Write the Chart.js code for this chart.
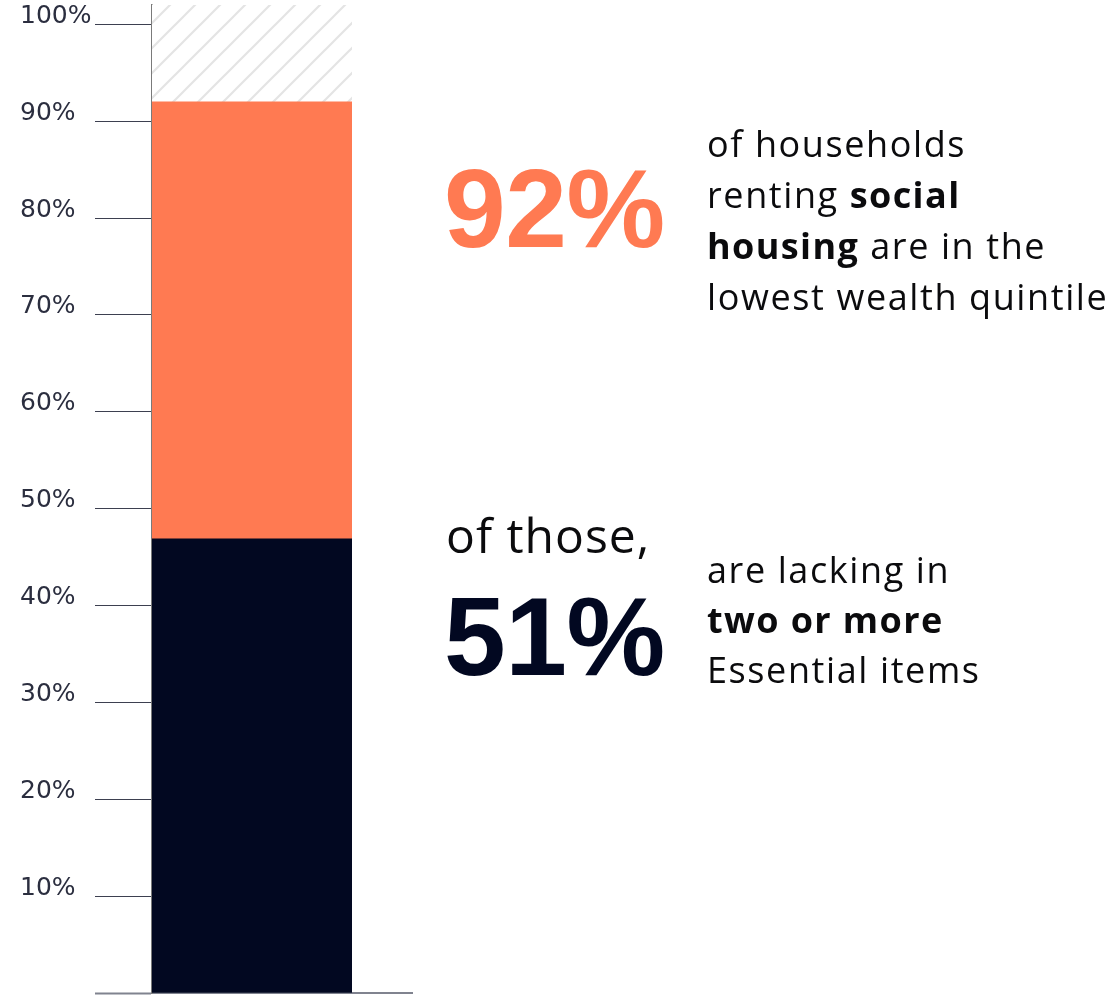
<!DOCTYPE html>
<html>
<head>
<meta charset="utf-8">
<title>Social housing renters and wealth</title>
<script src="https://cdn.jsdelivr.net/npm/chart.js@4.4.1/dist/chart.umd.min.js"></script>
<style>
  html, body { margin: 0; padding: 0; background: #ffffff; }
  #wrap { position: relative; width: 1115px; height: 997px; overflow: hidden; }
  #chart { position: absolute; left: 0; top: 0; }
  .note { position: absolute; white-space: nowrap; }
  .big { font-family: "Liberation Sans", Arial, sans-serif; font-weight: 700; font-size: 111px; line-height: 111px; letter-spacing: -0.5px; }
  .body { font-family: "Open Sans", "Noto Sans", sans-serif; font-size: 36px; line-height: 51px; letter-spacing: 1.6px; color: #0b0b0d; }
  .body b { font-weight: 700; letter-spacing: 1.4px; }
  .lead { font-family: "Open Sans", "Noto Sans", sans-serif; font-size: 48px; line-height: 56px; letter-spacing: 1px; color: #0b0b0d; }
</style>
</head>
<body>
<div id="wrap">
  <canvas id="chart" width="1115" height="997"></canvas>
  <div class="note big" style="left:444px; top:154px; color:#FF7A52;">92%</div>
  <div class="note body" style="left:707px; top:118px;">of households<br>renting <b>social</b><br><b>housing</b> are in the<br>lowest wealth quintile</div>
  <div class="note lead" style="left:446px; top:507px;">of those,</div>
  <div class="note big" style="left:444px; top:582px; color:#020821;">51%</div>
  <div class="note body" style="left:707px; top:545px; line-height:50px;">are lacking in<br><b>two or more</b><br>Essential items</div>
</div>
<script>
// One stacked column: renters lacking essentials, the rest of the lowest quintile,
// and the remainder of all social renters shown as a hatched block.
const categories = ['Social housing renters'];
const lackingEssentials = [46.9];   // 51% of the 92%
const restLowestQuintile = [45.1];  // up to 92%
const remainder = [10];             // hatched block above 92%, to the top of the axis
const yTicks = [10, 20, 30, 40, 50, 60, 70, 80, 90, 100];

const ORANGE = '#FF7A52';
const NAVY = '#020821';

function hatchPattern() {
  const s = 25;
  const c = document.createElement('canvas');
  c.width = s; c.height = s;
  const g = c.getContext('2d');
  g.fillStyle = '#ffffff';
  g.fillRect(0, 0, s, s);
  g.strokeStyle = '#e4e4e4';
  g.lineWidth = 2.2;
  g.beginPath();
  g.moveTo(-s, s); g.lineTo(s, -s);
  g.moveTo(0, s); g.lineTo(s, 0);
  g.moveTo(0, 2 * s); g.lineTo(2 * s, 0);
  g.stroke();
  return g.createPattern(c, 'repeat');
}

// Extends the baseline past the column to the right.
const baselineExtension = {
  id: 'baselineExtension',
  afterDraw(chart) {
    const { ctx, chartArea } = chart;
    ctx.save();
    ctx.strokeStyle = '#80838f';
    ctx.lineWidth = 2;
    ctx.beginPath();
    ctx.moveTo(chartArea.right, chartArea.bottom);
    ctx.lineTo(chartArea.right + 61, chartArea.bottom);
    ctx.stroke();
    ctx.restore();
  }
};

new Chart(document.getElementById('chart'), {
  type: 'bar',
  data: {
    labels: categories,
    datasets: [
      { label: 'Lacking two or more Essential items', data: lackingEssentials, backgroundColor: NAVY },
      { label: 'Lowest wealth quintile', data: restLowestQuintile, backgroundColor: ORANGE },
      { label: 'Other social renters', data: remainder, backgroundColor: hatchPattern() }
    ]
  },
  options: {
    responsive: false,
    animation: false,
    devicePixelRatio: 1,
    layout: { padding: { left: 20, top: 5, right: 763, bottom: 4 } },
    datasets: { bar: { barPercentage: 1, categoryPercentage: 1, borderWidth: 0 } },
    plugins: { legend: { display: false }, tooltip: { enabled: false } },
    scales: {
      x: {
        stacked: true,
        grid: { display: false },
        ticks: { display: false },
        border: { display: true, color: '#80838f', width: 2 },
        afterFit(scale) { scale.height = 0; }
      },
      y: {
        stacked: true,
        min: 0,
        max: 102,
        afterBuildTicks(scale) {
          scale.ticks = [0].concat(yTicks).map(v => ({ value: v }));
        },
        ticks: {
          includeBounds: false,
          crossAlign: 'far',
          padding: 5,
          labelOffset: -8,
          color: '#2b2e3f',
          font: { family: '"DejaVu Sans", sans-serif', size: 25 },
          callback: v => (v === 0 ? '' : v + '%')
        },
        grid: {
          drawOnChartArea: false,
          drawTicks: true,
          tickLength: 57,
          tickColor: ctx => (ctx.tick && ctx.tick.value === 0 ? '#80838f' : '#3d4050'),
          tickWidth: ctx => (ctx.tick && ctx.tick.value === 0 ? 2 : 1.2)
        },
        border: { display: true, color: '#7a7a7a', width: 1.5 },
        afterFit(scale) {
          scale.width = 132;
          scale.paddingTop = 0;
          scale.paddingBottom = 0;
        }
      }
    }
  },
  plugins: [baselineExtension]
});
</script>
</body>
</html>
